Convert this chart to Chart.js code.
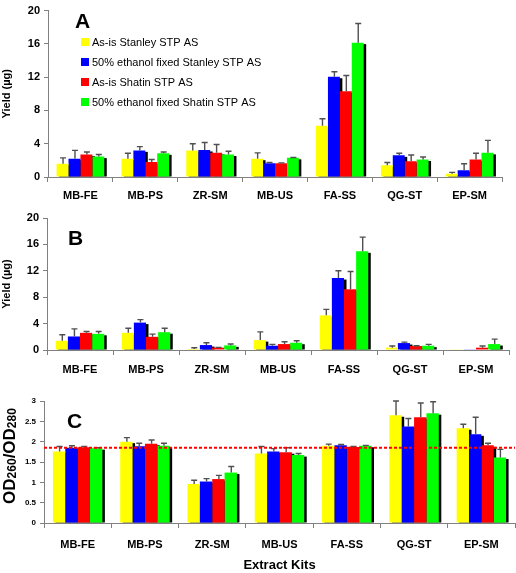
<!DOCTYPE html>
<html><head><meta charset="utf-8">
<script src="https://cdn.jsdelivr.net/npm/chart.js@4"></script>
<style>
html,body{margin:0;padding:0;background:#fff;}
#wrap{position:relative;width:516px;height:573px;overflow:hidden;}
canvas{position:absolute;left:0;}
</style></head><body>
<div id="wrap">
<canvas id="cA" width="516" height="205" style="top:0px;width:516px;height:205px"></canvas>
<canvas id="cB" width="516" height="175" style="top:205px;width:516px;height:175px"></canvas>
<canvas id="cC" width="516" height="193" style="top:380px;width:516px;height:193px"></canvas>
</div>
<script>
// ---------- DATA ----------
const categories = ['MB-FE','MB-PS','ZR-SM','MB-US','FA-SS','QG-ST','EP-SM'];
const seriesNames = ['As-is Stanley STP AS','50% ethanol fixed Stanley STP AS','As-is Shatin STP AS','50% ethanol fixed Shatin STP AS'];
const yieldTicks = [0,4,8,12,16,20];
const ratioTicks = [0,0.5,1,1.5,2,2.5,3];
const ratioReference = 1.85;

// Panel A: yield (µg)
const yieldA_asisStanley   = [1.6, 2.2, 3.2, 2.2, 6.15, 1.4, 0.4];
const yieldA_ethStanley    = [2.2, 3.2, 3.25, 1.65, 12.05, 2.6, 0.8];
const yieldA_asisShatin    = [2.7, 1.8, 2.9, 1.65, 10.3, 1.9, 2.1];
const yieldA_ethShatin     = [2.45, 2.85, 2.7, 2.3, 16.15, 2.1, 2.9];
const sdA_asisStanley      = [0.7, 0.65, 0.8, 0.7, 0.85, 0.35, 0.15];
const sdA_ethStanley       = [1.0, 0.45, 0.9, 0.1, 0.6, 0.25, 0.8];
const sdA_asisShatin       = [0.3, 0.3, 1.0, 0.05, 1.9, 0.75, 0.75];
const sdA_ethShatin        = [0.25, 0.15, 0.4, 0.05, 2.3, 0.3, 1.5];

// Panel B: yield (µg)
const yieldB_asisStanley   = [1.4, 2.6, 0.15, 1.5, 5.25, 0.35, 0.05];
const yieldB_ethStanley    = [2.05, 4.15, 0.75, 0.65, 10.9, 1.05, 0.05];
const yieldB_asisShatin    = [2.6, 2.0, 0.35, 0.9, 9.2, 0.6, 0.35];
const yieldB_ethShatin     = [2.45, 2.7, 0.7, 1.1, 14.95, 0.65, 0.9];
const sdB_asisStanley      = [0.9, 0.7, 0.2, 1.25, 0.9, 0.25, 0];
const sdB_ethStanley       = [1.15, 0.45, 0.35, 0.2, 1.1, 0.15, 0];
const sdB_asisShatin       = [0.2, 0.4, 0.05, 0.35, 2.7, 0.05, 0.25];
const sdB_ethShatin        = [0.35, 0.6, 0.2, 0.3, 2.15, 0.2, 0.75];

// Panel C: OD260/OD280
const ratioC_asisStanley   = [1.76, 2.0, 0.96, 1.71, 1.9, 2.65, 2.33];
const ratioC_ethStanley    = [1.85, 1.89, 1.02, 1.76, 1.91, 2.37, 2.18];
const ratioC_asisShatin    = [1.86, 1.95, 1.08, 1.74, 1.87, 2.6, 1.91];
const ratioC_ethShatin     = [1.84, 1.9, 1.24, 1.67, 1.9, 2.7, 1.61];
const sdC_asisStanley      = [0.12, 0.1, 0.09, 0.17, 0.04, 0.35, 0.1];
const sdC_ethStanley       = [0.05, 0.07, 0.07, 0.07, 0.02, 0.2, 0.42];
const sdC_asisShatin       = [0.02, 0.09, 0.09, 0.11, 0.01, 0.35, 0.05];
const sdC_ethShatin        = [0.01, 0.06, 0.15, 0.04, 0.01, 0.28, 0.2];

// ---------- STYLE ----------
const seriesColors = ['#ffff00','#0000ff','#ff0000','#00ff00'];
const FONT = '"Liberation Sans", Arial, "DejaVu Sans", sans-serif';
Chart.defaults.font.family = FONT;
Chart.defaults.color = '#000';
const AXIS = '#808080';

// Draw a rotated title made of [text, fontSize] parts (for subscripts)
function drawRotatedParts(ctx, parts, baseX, centerY) {
  ctx.save();
  ctx.fillStyle = '#000';
  let total = 0;
  parts.forEach(p => { ctx.font = 'bold ' + p[1] + 'px ' + FONT; total += ctx.measureText(p[0]).width; });
  ctx.translate(baseX, centerY + total / 2);
  ctx.rotate(-Math.PI / 2);
  ctx.textBaseline = 'alphabetic';
  ctx.textAlign = 'left';
  let x = 0;
  parts.forEach(p => {
    ctx.font = 'bold ' + p[1] + 'px ' + FONT;
    ctx.fillText(p[0], x, p[2] || 0);
    x += ctx.measureText(p[0]).width;
  });
  ctx.restore();
}

function makePanel(id, opt) {
  const datasets = opt.values.map((v, i) => ({
    label: seriesNames[i],
    data: v,
    sd: opt.sds[i],
    backgroundColor: seriesColors[i],
    borderWidth: 0,
    categoryPercentage: 0.735,
    barPercentage: 1.0
  }));

  const panelPlugin = {
    id: 'panel_' + id,
    beforeDatasetsDraw(chart) {
      const ctx = chart.ctx;
      ctx.save();
      ctx.fillStyle = '#000';
      chart.data.datasets.forEach((ds, di) => {
        const meta = chart.getDatasetMeta(di);
        meta.data.forEach(bar => {
          const h = bar.base - bar.y;
          if (h < 2) return;
          ctx.fillRect(bar.x - bar.width / 2 + 2.5, bar.y + 1.5, bar.width, h - 1.5);
        });
      });
      ctx.restore();
    },
    afterDatasetsDraw(chart) {
      const ctx = chart.ctx;
      const ys = chart.scales.y;
      ctx.save();
      ctx.strokeStyle = '#505050';
      ctx.lineWidth = 1.4;
      chart.data.datasets.forEach((ds, di) => {
        const meta = chart.getDatasetMeta(di);
        meta.data.forEach((bar, j) => {
          const sd = ds.sd[j];
          if (!sd) return;
          const yTop = ys.getPixelForValue(ds.data[j] + sd);
          const x = bar.x + 0.5;
          ctx.beginPath();
          ctx.moveTo(x, bar.y);
          ctx.lineTo(x, yTop);
          ctx.moveTo(x - 3, yTop);
          ctx.lineTo(x + 3, yTop);
          ctx.stroke();
        });
      });
      if (opt.refLine !== undefined) {
        const y = ys.getPixelForValue(opt.refLine);
        ctx.strokeStyle = '#ff0000';
        ctx.lineWidth = 2;
        ctx.setLineDash([3, 2]);
        ctx.beginPath();
        ctx.moveTo(chart.chartArea.left, y);
        ctx.lineTo(chart.chartArea.right, y);
        ctx.stroke();
        ctx.setLineDash([]);
      }
      ctx.restore();
    },
    afterDraw(chart) {
      const ctx = chart.ctx;
      ctx.save();
      ctx.fillStyle = '#000';
      ctx.font = 'bold 21px ' + FONT;
      ctx.textBaseline = 'alphabetic';
      ctx.textAlign = 'left';
      ctx.fillText(opt.letter, opt.letterX, opt.letterY);
      if (opt.legend) {
        ctx.font = '11px ' + FONT;
        ctx.textBaseline = 'middle';
        chart.data.datasets.forEach((ds, i) => {
          const cy = 42 + i * 20;
          ctx.fillStyle = ds.backgroundColor;
          ctx.fillRect(81, cy - 4, 8, 8);
          ctx.fillStyle = '#000';
          ctx.fillText(ds.label, 92, cy + 0.5);
        });
      }
      ctx.restore();
      if (opt.yTitleParts) {
        drawRotatedParts(ctx, opt.yTitleParts, 15, 456 - 380);
      }
    }
  };

  return new Chart(document.getElementById(id), {
    type: 'bar',
    data: { labels: categories, datasets },
    options: {
      responsive: false,
      animation: false,
      layout: { padding: opt.padding },
      plugins: { legend: { display: false }, tooltip: { enabled: false } },
      scales: {
        x: {
          offset: true,
          grid: { display: true, drawOnChartArea: false, drawTicks: true, tickLength: 5, color: AXIS, offset: true },
          border: { display: true, color: AXIS, width: 1 },
          ticks: { font: { size: 11, weight: 'bold' }, padding: opt.xPad, maxRotation: 0, autoSkip: false },
          title: opt.xTitle ? { display: true, text: opt.xTitle, font: { size: 13, weight: 'bold' }, padding: { top: 0, bottom: 0 } } : { display: false },
          afterFit(s) { s.height = opt.xHeight; }
        },
        y: {
          min: opt.ticks[0],
          max: opt.ticks[opt.ticks.length - 1],
          afterBuildTicks(s) { s.ticks = opt.ticks.map(v => ({ value: v })); },
          grid: { display: true, drawOnChartArea: false, drawTicks: true, tickLength: 4, color: AXIS },
          border: { display: true, color: AXIS, width: 1 },
          ticks: { font: { size: opt.yTickSize, weight: 'bold' }, padding: 4, callback: v => String(v) },
          title: { display: !opt.yTitleParts, text: opt.yTitle, font: { size: opt.yTitleSize, weight: 'bold' }, padding: { top: 0, bottom: 0 } },
          afterFit(s) { s.width = opt.yWidth; }
        }
      }
    },
    plugins: [panelPlugin]
  });
}

makePanel('cA', {
  values: [yieldA_asisStanley, yieldA_ethStanley, yieldA_asisShatin, yieldA_ethShatin],
  sds: [sdA_asisStanley, sdA_ethStanley, sdA_asisShatin, sdA_ethShatin],
  ticks: yieldTicks, yTitle: 'Yield (µg)', yTitleSize: 11, yTickSize: 11,
  padding: { top: 4, right: 14, left: 0, bottom: 0 }, yWidth: 48, xHeight: 28, xPad: 7,
  letter: 'A', letterX: 75, letterY: 28, legend: true
});
makePanel('cB', {
  values: [yieldB_asisStanley, yieldB_ethStanley, yieldB_asisShatin, yieldB_ethShatin],
  sds: [sdB_asisStanley, sdB_ethStanley, sdB_asisShatin, sdB_ethShatin],
  ticks: yieldTicks, yTitle: 'Yield (µg)', yTitleSize: 11, yTickSize: 11,
  padding: { top: 13, right: 7, left: 0, bottom: 0 }, yWidth: 47, xHeight: 30, xPad: 8,
  letter: 'B', letterX: 68, letterY: 40, legend: false
});
makePanel('cC', {
  values: [ratioC_asisStanley, ratioC_ethStanley, ratioC_asisShatin, ratioC_ethShatin],
  sds: [sdC_asisStanley, sdC_ethStanley, sdC_asisShatin, sdC_ethShatin],
  ticks: ratioTicks, yTitle: 'OD260/OD280', yTitleSize: 16, yTickSize: 8,
  yTitleParts: [['OD', 17], ['260', 12, 1], ['/', 17], ['OD', 17], ['280', 12, 1]],
  padding: { top: 21, right: 1, left: 0, bottom: 0 }, yWidth: 44, xHeight: 50, xPad: 10,
  xTitle: 'Extract Kits', refLine: ratioReference,
  letter: 'C', letterX: 67, letterY: 48, legend: false
});
</script>
</body></html>
